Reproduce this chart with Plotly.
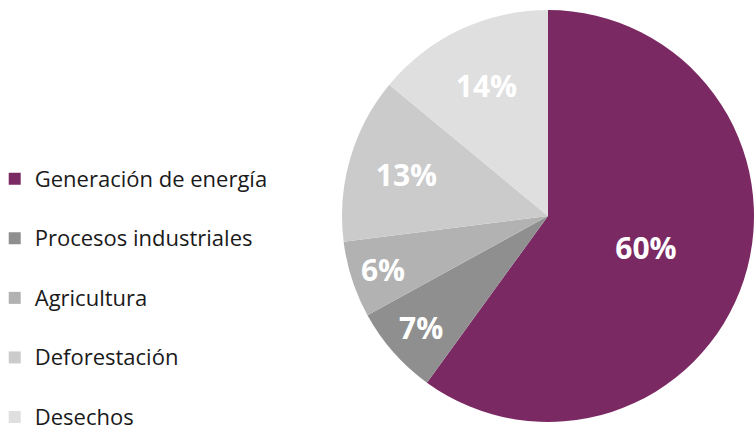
import plotly.graph_objects as go

categories = ["Generación de energía", "Procesos industriales", "Agricultura", "Deforestación", "Desechos"]
values = [60, 7, 6, 13, 14]
colors = ["#7B2962", "#8F8F8F", "#B2B2B2", "#CBCBCB", "#DFDFDF"]

legend_labels = [f"<span style='font-size:22px;baseline-shift:9px'>{c}</span>" for c in categories]

fig = go.Figure(go.Pie(
    labels=legend_labels,
    values=values,
    marker=dict(colors=colors, line=dict(width=0)),
    sort=False,
    direction="clockwise",
    rotation=0,
    texttemplate="%{value}%",
    textposition="inside",
    insidetextorientation="horizontal",
    textfont=dict(family="Open Sans", size=30, color="white", weight="bold"),
    domain=dict(x=[342/754, 754/754], y=[9/432, 423/432]),
    hoverinfo="skip",
))

fig.update_layout(
    width=754, height=432,
    margin=dict(l=0, r=0, t=0, b=0, autoexpand=False),
    paper_bgcolor="white",
    showlegend=True,
    legend=dict(
        x=-0.007, xanchor="left", y=(432-298)/432, yanchor="middle",
        font=dict(family="Open Sans", size=43.5, color="#1A1A1A"),
        itemwidth=30,
        bgcolor="rgba(0,0,0,0)",
    ),
    uniformtext=dict(minsize=20, mode="show"),
)

fig.write_html("out.html")
